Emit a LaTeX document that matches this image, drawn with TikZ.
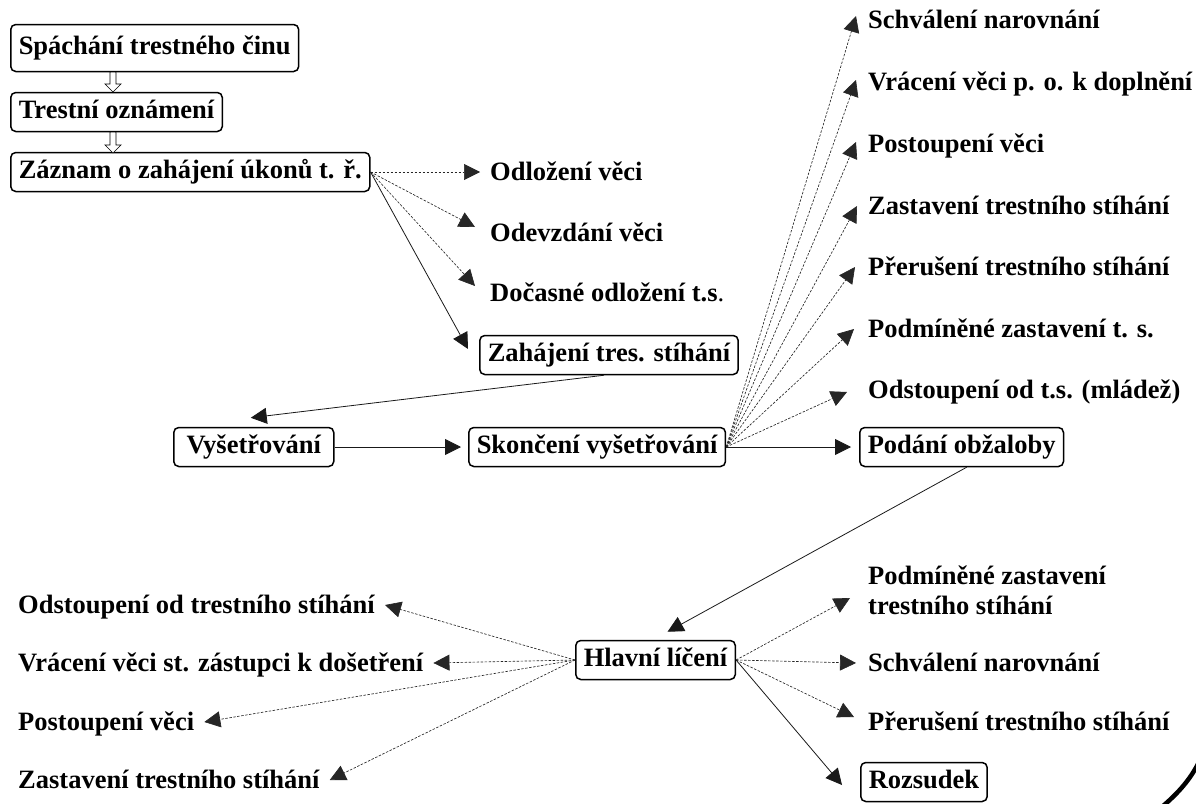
\documentclass[tikz,border=0pt]{standalone}
\usepackage{fontspec}
\setmainfont{Liberation Serif}
\usetikzlibrary{arrows.meta,calc}
\begin{document}
\begin{tikzpicture}[x=1pt,y=-1pt,
  every node/.style={font=\fontsize{26.5}{30}\selectfont\bfseries},
  box/.style={draw, line width=1.5pt, rounded corners=5pt, inner xsep=8pt, inner ysep=0pt, text height=19pt, text depth=6.5pt, minimum height=39pt, anchor=west},
  lbl/.style={anchor=west, inner sep=0pt, text height=17.5pt, text depth=0pt},
  dsh/.style={draw=black!85, line width=0.65pt, dash pattern=on 2.5pt off 1.5pt, -{Triangle[length=16pt,width=16pt]}},
  sol/.style={draw=black!90, line width=0.8pt, -{Triangle[length=16pt,width=16pt]}},
  hollow/.style={draw, line width=0.7pt, fill=white}
]
\useasboundingbox (0,0) rectangle (1196,803);

% boxes
\node[box, minimum height=47pt] (b1) at (10,48) {Spáchání trestného činu};
\node[box] (b2) at (10,112) {Trestní oznámení};
\node[box] (b3) at (10,172) {Záznam o zahájení úkonů t. ř.};
\node[box] (zah) at (479,355) {Zahájení tres. stíhání};
\node[box, minimum width=160pt] (vys) at (173,447) {Vyšetřování};
\node[box] (sko) at (468,447) {Skončení vyšetřování};
\node[box] (pod) at (859,447) {Podání obžaloby};
\node[box] (hl) at (575,660) {Hlavní líčení};
\node[box] (roz) at (860,782) {Rozsudek};

% labels
\node[lbl] (l1) at (490,172) {Odložení věci};
\node[lbl] (l2) at (490,233) {Odevzdání věci};
\node[lbl] (l3) at (490,293) {Dočasné odložení t.s{\mdseries .}};

\node[lbl] (r1) at (868,20) {Schválení narovnání};
\node[lbl] (r2) at (868,82) {Vrácení věci p. o. k doplnění};
\node[lbl] (r3) at (868,144) {Postoupení věci};
\node[lbl] (r4) at (868,206) {Zastavení trestního stíhání};
\node[lbl] (r5) at (868,267) {Přerušení trestního stíhání};
\node[lbl] (r6) at (868,329) {Podmíněné zastavení t. s.};
\node[lbl] (r7) at (868,390) {Odstoupení od t.s. (mládež)};

\node[lbl] (q1) at (18,605) {Odstoupení od trestního stíhání};
\node[lbl] (q2) at (18,663) {Vrácení věci st. zástupci k došetření};
\node[lbl] (q3) at (18,722) {Postoupení věci};
\node[lbl] (q4) at (18,780) {Zastavení trestního stíhání};

\node[anchor=west, inner sep=0pt, align=left] (p1) at (868,590) {Podmíněné zastavení\\trestního stíhání};
\node[lbl] (p2) at (868,663) {Schválení narovnání};
\node[lbl] (p3) at (868,722) {Přerušení trestního stíhání};

% hollow arrows
\draw[hollow] (110,72) -- (116,72) -- (116,84) -- (121,84) -- (113,92) -- (105,84) -- (110,84) -- cycle;
\draw[hollow] (110,132) -- (116,132) -- (116,145) -- (121,145) -- (113,153) -- (105,145) -- (110,145) -- cycle;

% connectors from Zaznam
\draw[dsh] (b3.east) -- ($(l1.west)+(-10,0)$);
\draw[dsh] (b3.east) -- ($(l2.west)+(-15,-6)$);
\draw[dsh] (b3.east) -- ($(l3.west)+(-15,-7)$);
\draw[sol] (b3.east) -- ($(zah.west)+(-11,-6)$);
\draw[sol] ($(zah.south)+(-5,0)$) -- ($(vys.north)+(-3,-9)$);
\draw[sol] (vys.east) -- ($(sko.west)+(-7,0)$);

% fan from Skonceni
\draw[dsh] (sko.east) -- ($(r1.west)+(-12,-4)$);
\draw[dsh] (sko.east) -- ($(r2.west)+(-12,-2)$);
\draw[dsh] (sko.east) -- ($(r3.west)+(-12,-2)$);
\draw[dsh] (sko.east) -- ($(r4.west)+(-11,0)$);
\draw[dsh] (sko.east) -- ($(r5.west)+(-13,0)$);
\draw[dsh] (sko.east) -- ($(r6.west)+(-14,0)$);
\draw[dsh] (sko.east) -- ($(r7.west)+(-21,2)$);
\draw[sol] (sko.east) -- ($(pod.west)+(-8,0)$);
\draw[sol] ($(pod.south)+(5,0)$) -- ($(hl.north)+(12,-8)$);

% fans from Hlavni liceni
\draw[dsh] (hl.west) -- ($(q1.east)+(10,0)$);
\draw[dsh] (hl.west) -- ($(q2.east)+(10,0)$);
\draw[dsh] (hl.west) -- ($(q3.east)+(10,0)$);
\draw[dsh] (hl.west) -- ($(q4.east)+(10,0)$);
\draw[dsh] (hl.east) -- ($(p1.west)+(-18,8)$);
\draw[dsh] (hl.east) -- ($(p2.west)+(-12,0)$);
\draw[dsh] (hl.east) -- ($(p3.west)+(-14,-5)$);
\draw[sol] (hl.east) -- ($(roz.west)+(-18,3)$);

% corner arc
\draw[line width=4.5pt] (1163,806) .. controls (1178,793) and (1190,780) .. (1199,762);
\end{tikzpicture}
\end{document}
